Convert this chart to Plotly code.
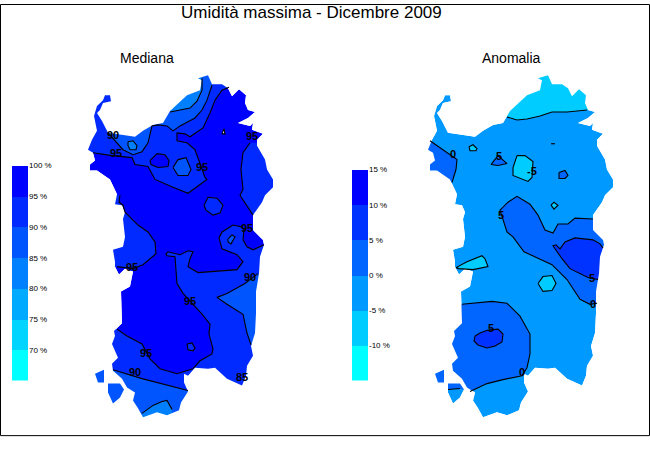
import plotly.graph_objects as go

# Sardinia, in picture pixels of the left panel.
# The right panel is the same island on a second x axis shifted by 340.
COAST = [(198,75),(208,72),(212,81),(222,81),(228,85),(232,93),(239,86),(246,92),(245,100),(248,107),
         (255,109),(248,115),(238,120),(250,123),(253,120),(252,127),(263,131),(257,137),(257,143),(265,157),
         (267,167),(273,177),(273,185),(265,193),(262,200),(253,213),(253,228),(263,238),(264,243),(260,255),
         (259,272),(256,290),(256,312),(255,332),(251,345),(253,355),(247,365),(246,375),(242,385),(233,381),
         (227,378),(215,367),(208,368),(195,367),(188,375),(184,373),(184,382),(188,391),(181,402),(179,410),
         (167,415),(157,412),(143,417),(138,408),(133,400),(135,392),(127,387),(122,378),(113,370),(112,363),
         (118,357),(112,343),(115,335),(114,330),(122,322),(121,290),(130,285),(133,270),(125,267),(119,273),
         (115,265),(115,260),(113,248),(123,245),(125,235),(123,217),(125,210),(122,203),(115,202),(117,192),
         (110,177),(97,168),(90,168),(90,162),(95,158),(93,150),(88,147),(92,137),(97,128),(94,113),
         (97,103),(103,97),(105,92),(110,92),(111,98),(103,100),(100,107),(97,110),(102,118),(108,130),
         (122,132),(135,134),(143,128),(153,122),(163,120),(170,108),(187,92),(200,87),(202,77)]
SAN_PIETRO = [(95,373),(104,369),(104,382),(98,382)]
SANT_ANTIOCO = [(108,383),(120,383),(124,389),(120,397),(113,403),(108,392)]

# Mediana contours
MED_NW_95 = [(229,84),(222,87),(215,97),(210,110),(203,125),(190,134),(185,131),(177,130),(177,138),(187,140),
             (195,147),(200,160),(205,175),(207,177),(188,191),(173,185),(155,177),(148,164),(135,162),(132,155),
             (112,153),(93,150)]
MED_NW_95_OUT = [(80,150),(80,65),(229,65)]
MED_W_95 = [(120,193),(119,200),(123,203),(125,210),(138,223),(148,230),(155,240),(156,252),(143,263),(133,267),(117,265)]
MED_W_95_OUT = [(80,265),(80,193)]
MED_E_95 = [(250,140),(243,150),(241,167),(243,187),(240,193),(253,213)]
MED_E_95_OUT = [(295,213),(295,140)]
MED_SE_95 = [(193,368),(200,360),(212,353),(213,348),(209,333),(210,323),(202,313),(190,300),(183,292),(177,282),
             (175,255),(167,254),(166,252),(168,250),(180,253),(188,249),(193,250),(190,257),(188,265),(198,271),
             (237,268),(243,260),(237,253),(222,247),(220,240),(219,236),(222,230),(233,223),(242,225),(244,228),
             (243,238),(247,245),(253,248),(264,243)]
MED_SE_95_OUT = [(290,243),(290,395),(200,395)]
MED_SW_95 = [(117,328),(127,335),(142,343),(150,358),(160,368),(177,373),(193,368)]
MED_SW_95_OUT = [(195,425),(90,425),(90,328)]
MED_NW_90 = [(212,82),(207,97),(202,107),(195,115),(180,123),(173,128),(167,123),(158,122),(152,123),(148,140),
             (142,149),(133,152),(123,147),(115,138),(108,130)]
MED_NW_90_OUT = [(112,125),(112,80),(212,65)]
MED_SE_90 = [(258,272),(245,282),(227,292),(217,296),(227,303),(243,313),(247,332),(251,344)]
MED_SE_90_OUT = [(290,344),(290,272)]
MED_SW_90 = [(113,369),(142,378),(188,390)]
MED_SW_90_OUT = [(200,425),(90,425),(90,369)]
MED_N_85 = [(170,109),(190,105),(197,98),(202,87),(202,75)]
MED_N_85_OUT = [(202,65),(165,65)]
MED_S_85 = [(142,413),(153,405),(162,401),(167,400),(172,409)]
MED_S_85_OUT = [(172,425),(142,425)]
MED_SPOT_A = [(128,139),(133,138),(137,143),(136,147),(130,147),(128,143),(128,139)]
MED_SPOT_B = [(150,158),(157,151),(165,152),(169,158),(168,164),(158,165),(151,162),(150,158)]
MED_SPOT_C = [(173,165),(178,157),(186,155),(191,167),(188,173),(178,173),(173,165)]
MED_SPOT_D = [(204,203),(208,195),(217,196),(223,203),(220,211),(213,213),(206,208),(204,203)]
MED_SPOT_E = [(187,343),(192,342),(195,347),(193,350),(188,349),(187,343)]
MED_SPOT_F = [(228,237),(232,233),(235,235),(231,242),(228,240),(228,237)]
MED_SPOT_G = [(222,131),(224,126),(225,131),(222,131)]

# Anomalia contours
ANO_N = [(167,114),(177,117),(187,116),(200,113),(212,109),(227,109),(247,107)]
ANO_N_OUT = [(260,107),(260,65),(167,65)]
ANO_W = [(90,138),(112,153),(117,157),(116,167),(112,180)]
ANO_W_OUT = [(80,180),(80,138)]
ANO_MID = [(253,217),(235,216),(228,222),(218,222),(213,231),(205,228),(198,213),(190,202),(177,194),(168,200),
           (160,208),(162,215),(167,230),(173,235),(184,250),(212,263),(227,278),(240,298),(250,303),(257,302)]
ANO_MID_OUT = [(290,302),(290,217)]
ANO_E = [(263,246),(260,242),(253,238),(235,236),(225,240),(220,247),(216,243),(213,244),(222,257),(230,267),(248,276),(258,278)]
ANO_E_OUT = [(290,278),(290,246)]
ANO_SW = [(122,303),(152,300),(167,302),(180,315),(190,333),(190,353),(187,367),(182,375),(163,379),(147,383),(130,391)]
ANO_SW_OUT = [(120,388),(108,389),(85,389),(85,303)]
ANO_ANTIOCO = [(108,389),(120,388)]
ANO_SPOT_A = [(129,144),(133,142),(137,146),(136,148),(130,148),(129,144)]
ANO_SPOT_B = [(151,162),(158,153),(167,161),(158,163),(151,162)]
ANO_SPOT_C = [(177,153),(185,153),(193,159),(192,175),(188,179),(173,173),(173,165),(177,153)]
ANO_SPOT_D = [(219,170),(225,168),(228,173),(225,176),(219,176),(219,170)]
ANO_SPOT_E = [(211,203),(214,200),(218,203),(214,207),(211,203)]
ANO_SPOT_F = [(116,266),(127,260),(142,254),(145,257),(148,265),(133,268),(119,267),(116,266)]
ANO_SPOT_G = [(198,282),(203,275),(212,274),(216,282),(212,289),(203,290),(198,282)]
ANO_SPOT_H = [(135,335),(140,332),(148,329),(158,328),(163,333),(162,341),(155,345),(147,347),(138,344),(134,340),(135,335)]
ANO_TICK = [(211,141),(215,141)]

# Contour labels, overprinted in the original
MED_LABEL_X = [113,116,202,252,247,132,250,190,146,135,242]
MED_LABEL_Y = [133,152,166,134,227,267,277,301,353,373,378]
MED_LABEL_TEXT = ["90","95","95","95","95","95","90","95","95","90","85"]
ANO_LABEL_X = [113,159,192,161,252,253,151,182]
ANO_LABEL_Y = [153,155,170,214,278,304,328,373]
ANO_LABEL_TEXT = ["0","5","-5","5","5","0","5","0"]

# Colour scales
MED_LOW = [65,70,75,80,85,90,95]
MED_COLORS = ["#00FFFF","#00D4FF","#00AAFF","#0080FF","#0055FF","#002AFF","#0000FF"]
MED_TICKS = [70,75,80,85,90,95,100]
ANO_LOW = [-15,-10,-5,0,5,10]
ANO_COLORS = ["#00FFFF","#00CCFF","#0099FF","#0066FF","#0033FF","#0000FF"]
ANO_TICKS = [-10,-5,0,5,10,15]


def xs(pts):
    return [p[0] for p in pts]


def ys(pts):
    return [p[1] for p in pts]


def add_fill(fig, pts, color, xaxis):
    fig.add_trace(go.Scatter(x=xs(pts), y=ys(pts), xaxis=xaxis, yaxis="y", mode="lines", fill="toself",
                             fillcolor=color, line=dict(width=0), hoverinfo="skip"))


def add_line(fig, pts, xaxis):
    fig.add_trace(go.Scatter(x=xs(pts), y=ys(pts), xaxis=xaxis, yaxis="y", mode="lines",
                             line=dict(color="black", width=1.1), hoverinfo="skip"))


def add_mask(fig, xaxis):
    # white everywhere round the island, so the bands can run past the coast
    frame = [(75,58),(75,431),(300,431),(300,58),(75,58)]
    x, y = xs(frame), ys(frame)
    for ring in [COAST, SAN_PIETRO, SANT_ANTIOCO]:
        x += [None] + xs(ring) + [ring[0][0]]
        y += [None] + ys(ring) + [ring[0][1]]
    fig.add_trace(go.Scatter(x=x, y=y, xaxis=xaxis, yaxis="y", mode="lines", fill="toself",
                             fillcolor="white", line=dict(width=0), hoverinfo="skip"))


def add_panel(fig, xaxis, base, bands, spots, loose, label_x, label_y, label_text):
    for ring in [COAST, SAN_PIETRO, SANT_ANTIOCO]:
        add_fill(fig, ring, base, xaxis)
    for line, out, color in bands:
        add_fill(fig, line + out, color, xaxis)
    for spot, color in spots:
        add_fill(fig, spot, color, xaxis)
    add_mask(fig, xaxis)
    for line, out, color in bands:
        add_line(fig, line, xaxis)
    for spot, color in spots:
        add_line(fig, spot, xaxis)
    for line in loose:
        add_line(fig, line, xaxis)
    fig.add_trace(go.Scatter(x=label_x, y=label_y, text=[f"<b>{t}</b>" for t in label_text],
                             xaxis=xaxis, yaxis="y", mode="text",
                             textfont=dict(family="Liberation Sans", size=11, color="black"),
                             hoverinfo="skip"))


def add_scale(fig, low, colors, step, xaxis, yaxis):
    for value, color in zip(low, colors):
        fig.add_trace(go.Bar(x=[0], y=[step], base=[value], xaxis=xaxis, yaxis=yaxis, width=1,
                             marker=dict(color=color, line=dict(width=0)), hoverinfo="skip"))


fig = go.Figure()

add_panel(fig, "x", "#0000FF",
          [(MED_NW_95, MED_NW_95_OUT, "#002AFF"), (MED_W_95, MED_W_95_OUT, "#002AFF"),
           (MED_E_95, MED_E_95_OUT, "#002AFF"), (MED_SE_95, MED_SE_95_OUT, "#002AFF"),
           (MED_SW_95, MED_SW_95_OUT, "#002AFF"), (MED_NW_90, MED_NW_90_OUT, "#0055FF"),
           (MED_SE_90, MED_SE_90_OUT, "#0055FF"), (MED_SW_90, MED_SW_90_OUT, "#0055FF"),
           (MED_N_85, MED_N_85_OUT, "#0080FF"), (MED_S_85, MED_S_85_OUT, "#0080FF")],
          [(MED_SPOT_A, "#0080FF"), (MED_SPOT_B, "#0000FF"), (MED_SPOT_C, "#0055FF"), (MED_SPOT_D, "#002AFF"),
           (MED_SPOT_E, "#002AFF"), (MED_SPOT_F, "#0055FF"), (MED_SPOT_G, "#FFFFFF")],
          [], MED_LABEL_X, MED_LABEL_Y, MED_LABEL_TEXT)

add_panel(fig, "x2", "#0099FF",
          [(ANO_N, ANO_N_OUT, "#00CCFF"), (ANO_W, ANO_W_OUT, "#0066FF"), (ANO_MID, ANO_MID_OUT, "#0066FF"),
           (ANO_E, ANO_E_OUT, "#0033FF"), (ANO_SW, ANO_SW_OUT, "#0066FF")],
          [(ANO_SPOT_A, "#00CCFF"), (ANO_SPOT_B, "#0066FF"), (ANO_SPOT_C, "#00CCFF"), (ANO_SPOT_D, "#0066FF"),
           (ANO_SPOT_E, "#00CCFF"), (ANO_SPOT_F, "#00CCFF"), (ANO_SPOT_G, "#00CCFF"), (ANO_SPOT_H, "#0033FF")],
          [ANO_ANTIOCO, ANO_TICK], ANO_LABEL_X, ANO_LABEL_Y, ANO_LABEL_TEXT)

add_scale(fig, MED_LOW, MED_COLORS, 5, "x3", "y3")
add_scale(fig, ANO_LOW, ANO_COLORS, 5, "x4", "y4")

hidden = dict(visible=False, fixedrange=True)
tick_font = dict(family="Liberation Sans", size=8, color="black")

fig.update_layout(
    width=650, height=450,
    margin=dict(l=0, r=0, t=0, b=0),
    paper_bgcolor="white", plot_bgcolor="white",
    showlegend=False, barmode="overlay", bargap=0,
    xaxis=dict(range=[0, 650], domain=[0, 1], **hidden),
    xaxis2=dict(range=[-340, 310], domain=[0, 1], anchor="y", overlaying="x", **hidden),
    yaxis=dict(range=[450, 0], domain=[0, 1], **hidden),
    xaxis3=dict(range=[-0.5, 0.5], domain=[12/650, 28/650], anchor="y3", **hidden),
    yaxis3=dict(range=[65, 100], domain=[70/450, 287/450], anchor="x3", side="right",
                tickvals=MED_TICKS, ticktext=[f"{v} %" for v in MED_TICKS], tickfont=tick_font,
                ticks="", showgrid=False, zeroline=False, showline=False, fixedrange=True),
    xaxis4=dict(range=[-0.5, 0.5], domain=[352/650, 368/650], anchor="y4", **hidden),
    yaxis4=dict(range=[-15, 15], domain=[70/450, 283/450], anchor="x4", side="right",
                tickvals=ANO_TICKS, ticktext=[f"{v} %" for v in ANO_TICKS], tickfont=tick_font,
                ticks="", showgrid=False, zeroline=False, showline=False, fixedrange=True),
    shapes=[dict(type="rect", xref="x", yref="y", x0=0.5, x1=649.5, y0=0.5, y1=435.5,
                 line=dict(color="black", width=1), fillcolor="rgba(0,0,0,0)")],
    annotations=[
        dict(text="Umidità massima - Dicembre 2009", x=311, y=9, xref="x", yref="y", showarrow=False,
             font=dict(family="Liberation Sans", size=17, color="black")),
        dict(text="Mediana", x=147, y=54, xref="x", yref="y", showarrow=False,
             font=dict(family="Liberation Sans", size=14, color="black")),
        dict(text="Anomalia", x=511, y=54, xref="x", yref="y", showarrow=False,
             font=dict(family="Liberation Sans", size=14, color="black")),
    ],
)

fig.write_html("out.html", post_script="document.body.style.margin='0';",
               config=dict(displayModeBar=False))
